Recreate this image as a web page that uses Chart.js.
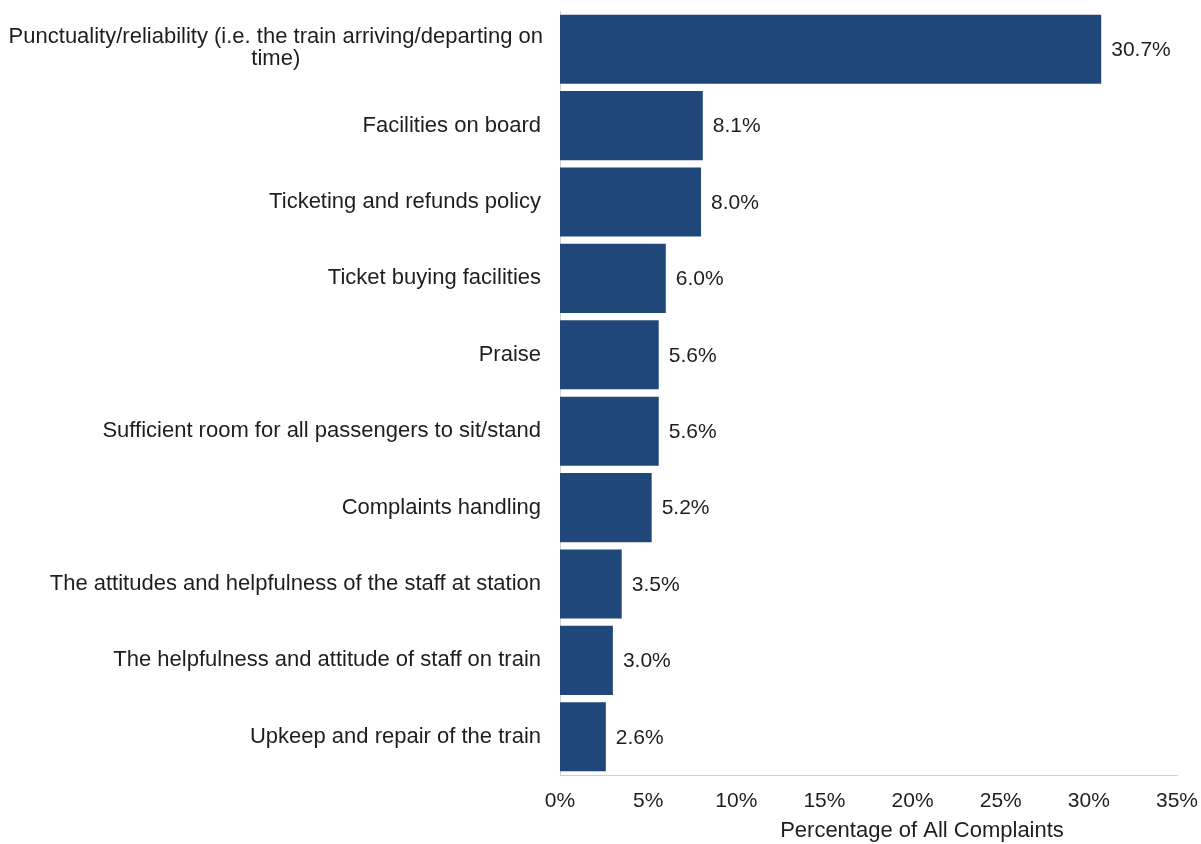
<!DOCTYPE html>
<html>
<head>
<meta charset="utf-8">
<script src="https://cdn.jsdelivr.net/npm/chart.js@4"></script>
<style>
  html, body { margin: 0; padding: 0; background: #fff; }
  #wrap { width: 1201px; height: 844px; position: relative; }
</style>
</head>
<body>
<div id="wrap"><canvas id="c"></canvas></div>
<script>
const categories = [
  ['Punctuality/reliability (i.e. the train arriving/departing on', 'time)'],
  'Facilities on board',
  'Ticketing and refunds policy',
  'Ticket buying facilities',
  'Praise',
  'Sufficient room for all passengers to sit/stand',
  'Complaints handling',
  'The attitudes and helpfulness of the staff at station',
  'The helpfulness and attitude of staff on train',
  'Upkeep and repair of the train'
];
const values = [30.7, 8.1, 8.0, 6.0, 5.6, 5.6, 5.2, 3.5, 3.0, 2.6];
const xTicks = [0, 5, 10, 15, 20, 25, 30, 35];
const xTitle = 'Percentage of All Complaints';

const FONT = '"Liberation Sans", Arial, sans-serif';
const TXT = '#1e1e1e';

const textPlugin = {
  id: 'textPlugin',
  afterDraw(chart) {
    const ctx = chart.ctx;
    const y = chart.scales.y;
    const area = chart.chartArea;
    ctx.save();
    ctx.fillStyle = TXT;
    ctx.textBaseline = 'middle';
    // category labels
    ctx.font = '22px ' + FONT;
    categories.forEach((lab, i) => {
      const cy = y.getPixelForValue(i);
      const rightEdge = area.left - 17;
      if (Array.isArray(lab)) {
        const lh = 22;
        const w = Math.max(...lab.map(l => ctx.measureText(l).width));
        ctx.textAlign = 'center';
        const cx = rightEdge - w / 2;
        const start = cy - (lab.length - 1) * lh / 2 - 1;
        lab.forEach((l, k) => ctx.fillText(l, cx, start + k * lh));
      } else {
        ctx.textAlign = 'right';
        ctx.fillText(lab, rightEdge - 2, cy);
      }
    });
    // value labels
    ctx.font = '21px ' + FONT;
    const meta = chart.getDatasetMeta(0);
    ctx.textAlign = 'left';
    meta.data.forEach((bar, i) => {
      ctx.fillText(values[i].toFixed(1) + '%', bar.x + 10, bar.y + 1);
    });
    // axis title
    ctx.font = '22px ' + FONT;
    ctx.textAlign = 'center';
    ctx.fillText(xTitle, 922, 831);
    ctx.restore();
  }
};

new Chart(document.getElementById('c'), {
  type: 'bar',
  data: {
    labels: categories,
    datasets: [{
      data: values,
      backgroundColor: '#1f477a',
      borderWidth: 0,
      barPercentage: 1,
      categoryPercentage: 0.905
    }]
  },
  options: {
    indexAxis: 'y',
    responsive: true,
    maintainAspectRatio: false,
    animation: false,
    layout: { padding: { top: 11, right: 24, left: 0, bottom: 0 } },
    plugins: { legend: { display: false }, tooltip: { enabled: false } },
    scales: {
      x: {
        min: 0, max: 35,
        afterBuildTicks(s) { s.ticks = xTicks.map(v => ({ value: v })); },
        afterFit(s) { s.height = 69; s.paddingRight = 0; s.paddingLeft = 0; },
        grid: { display: false, drawTicks: false },
        border: { display: true, color: '#d0d0d0', width: 1 },
        ticks: {
          padding: 14,
          color: TXT,
          font: { family: FONT, size: 21 },
          maxRotation: 0,
          callback: v => v + '%'
        }
      },
      y: {
        afterFit(s) { s.width = 560; },
        grid: { display: false, drawTicks: false },
        border: { display: true, color: '#d0d0d0', width: 1 },
        ticks: { display: false }
      }
    }
  },
  plugins: [textPlugin]
});
</script>
</body>
</html>
